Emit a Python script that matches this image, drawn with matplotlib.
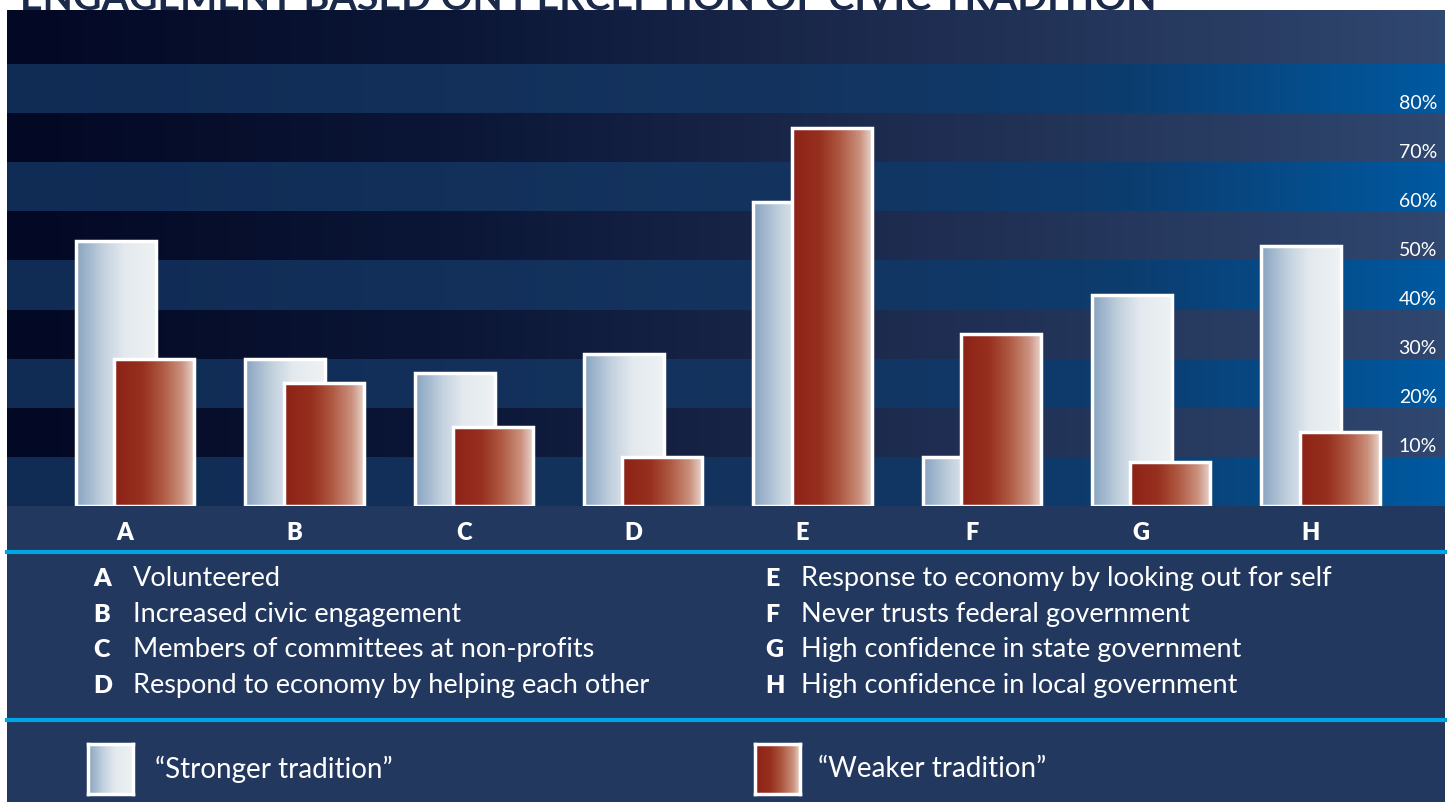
import numpy as np
import matplotlib
matplotlib.use("Agg")
import matplotlib.pyplot as plt
from matplotlib.colors import LinearSegmentedColormap
from matplotlib.patches import Rectangle
from matplotlib.lines import Line2D

# data
categories = ["A", "B", "C", "D", "E", "F", "G", "H"]
descriptions = [
    "Volunteered",
    "Increased civic engagement",
    "Members of committees at non-profits",
    "Respond to economy by helping each other",
    "Response to economy by looking out for self",
    "Never trusts federal government",
    "High confidence in state government",
    "High confidence in local government",
]
stronger = [54, 30, 27, 31, 62, 10, 43, 53]
weaker = [30, 25, 16, 10, 77, 35, 9, 15]
ytick_vals = [10, 20, 30, 40, 50, 60, 70, 80]
series_names = ["\u201cStronger tradition\u201d", "\u201cWeaker tradition\u201d"]
title = "ENGAGEMENT BASED ON PERCEPTION OF CIVIC TRADITION"

plt.rcParams["font.family"] = ["Lato", "DejaVu Sans"]

W, H = 1450, 803


def px(x, y, w, h):
    return [x / W, 1 - (y + h) / H, w / W, h / H]


def grad(stops):
    return LinearSegmentedColormap.from_list("g", stops)


dark_band = grad([(0, "#030824"), (0.3, "#0b1636"), (0.6, "#1c2a4d"), (1, "#30476f")])
blue_band = grad([(0, "#102b54"), (0.55, "#14345f"), (0.78, "#0c3c6e"), (1, "#0059a0")])
strong_cm = grad([(0, "#87a3c0"), (0.35, "#c4d2df"), (0.6, "#e3e9ee"), (1, "#eef2f4")])
weak_cm = grad([(0, "#8d2217"), (0.35, "#97301f"), (0.6, "#ae5842"), (0.85, "#cb917e"), (1, "#e8d3cb")])
ramp = np.linspace(0, 1, 256).reshape(1, -1)

fig = plt.figure(figsize=(W / 100, H / 100), dpi=100, facecolor="white")

fig.text(20 / W, 1 - 10 / H, title, fontsize=28.4, fontweight="bold",
         color="#1b2a4a", va="baseline", ha="left")

# lower panel background
fig.patches.append(Rectangle((7 / W, 0), 1438 / W, 792 / H, transform=fig.transFigure,
                             facecolor="#23385f", edgecolor="none", zorder=-1))
for yy in (553, 721):
    fig.add_artist(Line2D([7 / W, 1445 / W], [1 - yy / H] * 2, color="#00a6e4", lw=3))

ax = fig.add_axes(px(7, 11, 1438, 496))
xmin, xmax = -0.7576, 7.736
ymax = 101

# striped background
for k in range(10):
    cm = blue_band if k % 2 == 0 else dark_band
    top = ymax if k == 9 else (k + 1) * 10
    ax.imshow(ramp, cmap=cm, extent=[xmin, xmax, k * 10, top],
              aspect="auto", zorder=0, interpolation="bilinear")

x = np.arange(len(categories))
width = 0.4725
off_s = -0.35
off_w = -0.35 + 0.227

for vals, off, cm, z in [(stronger, off_s, strong_cm, 2), (weaker, off_w, weak_cm, 4)]:
    bars = ax.bar(x + off, vals, width=width, align="edge", facecolor="none",
                  edgecolor="white", linewidth=2.5, zorder=z + 1)
    for b in bars:
        ax.imshow(ramp, cmap=cm, extent=[b.get_x(), b.get_x() + b.get_width(), 0, b.get_height()],
                  aspect="auto", zorder=z, interpolation="bilinear")

ax.set_xlim(xmin, xmax)
ax.set_ylim(0, ymax)
for s in ax.spines.values():
    s.set_visible(False)
ax.set_yticks([])
ax.set_xticks(x - 0.06)
ax.set_xticklabels(categories, fontsize=17, fontweight="heavy", color="white")
ax.tick_params(axis="x", length=0, pad=11)

for v in ytick_vals:
    ax.text(0.9944, v + 0.5, f"{v}%", transform=ax.get_yaxis_transform(),
            ha="right", va="bottom", color="white", fontsize=14)

# descriptions
rows = [579, 615, 650, 686]
for i, (c, d) in enumerate(zip(categories, descriptions)):
    col = i // 4
    lx = 93 if col == 0 else 765
    tx = 133 if col == 0 else 801
    yy = 1 - rows[i % 4] / H
    fig.text(lx / W, yy, c, fontsize=18, fontweight="heavy", color="white", va="center")
    fig.text(tx / W, yy, d, fontsize=19.5, color="white", va="center")

# legend swatches
for (sx, tx), cm, name in zip([(88, 155), (755, 818)], [strong_cm, weak_cm], series_names):
    sw = fig.add_axes(px(sx, 745, 45, 50))
    sw.imshow(ramp, cmap=cm, aspect="auto", interpolation="bilinear")
    sw.set_xticks([])
    sw.set_yticks([])
    for s in sw.spines.values():
        s.set_color("white")
        s.set_linewidth(2.5)
    fig.text(tx / W, 1 - 769 / H, name, fontsize=20, color="white", va="center")

fig.savefig("out.png", dpi=100, facecolor="white")
